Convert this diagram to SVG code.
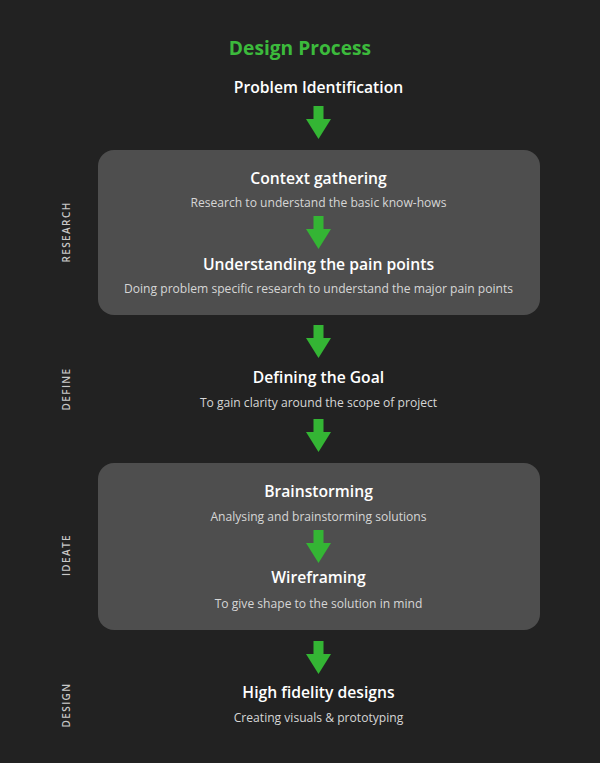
<svg xmlns="http://www.w3.org/2000/svg" width="600" height="763" viewBox="0 0 600 763">
<style>
.h{font-family:"Open Sans","Liberation Sans",sans-serif;font-weight:600;font-size:15.7px;fill:#ffffff;text-anchor:middle}
.s{font-family:"Open Sans","Liberation Sans",sans-serif;font-weight:400;font-size:12.1px;fill:#d6d6d6;text-anchor:middle}
.t{font-family:"Open Sans","Liberation Sans",sans-serif;font-weight:700;font-size:19.2px;fill:#3cba3c;text-anchor:middle}
.v{font-family:"Open Sans","Liberation Sans",sans-serif;font-weight:600;font-size:10px;fill:#c8c8c8;text-anchor:middle;letter-spacing:1.4px}
.box{fill:#4e4e4e}
.arr{fill:#34b534}
</style>
<defs>
<path id="a" d="M-5,0 H5 V13 H12.5 L0,33 L-12.5,13 H-5 Z"/>
</defs>
<rect width="600" height="763" fill="#222222"/>
<text class="t" x="300" y="55">Design Process</text>
<g id="boxes">
<rect id="research-box" class="box" x="98" y="150" width="442" height="165" rx="16"/>
<rect id="ideate-box" class="box" x="98" y="463" width="442" height="167" rx="16"/>
</g>
<g id="phases">
<text class="v" transform="translate(70,232) rotate(-90)">RESEARCH</text>
<text class="v" transform="translate(70,389) rotate(-90)">DEFINE</text>
<text class="v" transform="translate(70,555) rotate(-90)">IDEATE</text>
<text class="v" transform="translate(70,705) rotate(-90)">DESIGN</text>
</g>
<g id="connectors">
<use class="arr" href="#a" x="318.5" y="106"/>
<use class="arr" href="#a" x="318.5" y="216"/>
<use class="arr" href="#a" x="318.5" y="325"/>
<use class="arr" href="#a" x="318.5" y="419"/>
<use class="arr" href="#a" x="318.5" y="530"/>
<use class="arr" href="#a" x="318.5" y="641"/>
</g>
<g id="problem-identification"><text class="h" x="318.5" y="93">Problem Identification</text></g>
<g id="context-gathering">
<text class="h" x="318.5" y="184">Context gathering</text>
<text class="s" x="318.5" y="207">Research to understand the basic know-hows</text>
</g>
<g id="pain-points">
<text class="h" x="318.5" y="270">Understanding the pain points</text>
<text class="s" x="318.5" y="293">Doing problem specific research to understand the major pain points</text>
</g>
<g id="defining-goal">
<text class="h" x="318.5" y="383">Defining the Goal</text>
<text class="s" x="318.5" y="407">To gain clarity around the scope of project</text>
</g>
<g id="brainstorming">
<text class="h" x="318.5" y="497">Brainstorming</text>
<text class="s" x="318.5" y="521">Analysing and brainstorming solutions</text>
</g>
<g id="wireframing">
<text class="h" x="318.5" y="583">Wireframing</text>
<text class="s" x="318.5" y="608">To give shape to the solution in mind</text>
</g>
<g id="high-fidelity">
<text class="h" x="318.5" y="698">High fidelity designs</text>
<text class="s" x="318.5" y="722">Creating visuals &amp; prototyping</text>
</g>
</svg>
